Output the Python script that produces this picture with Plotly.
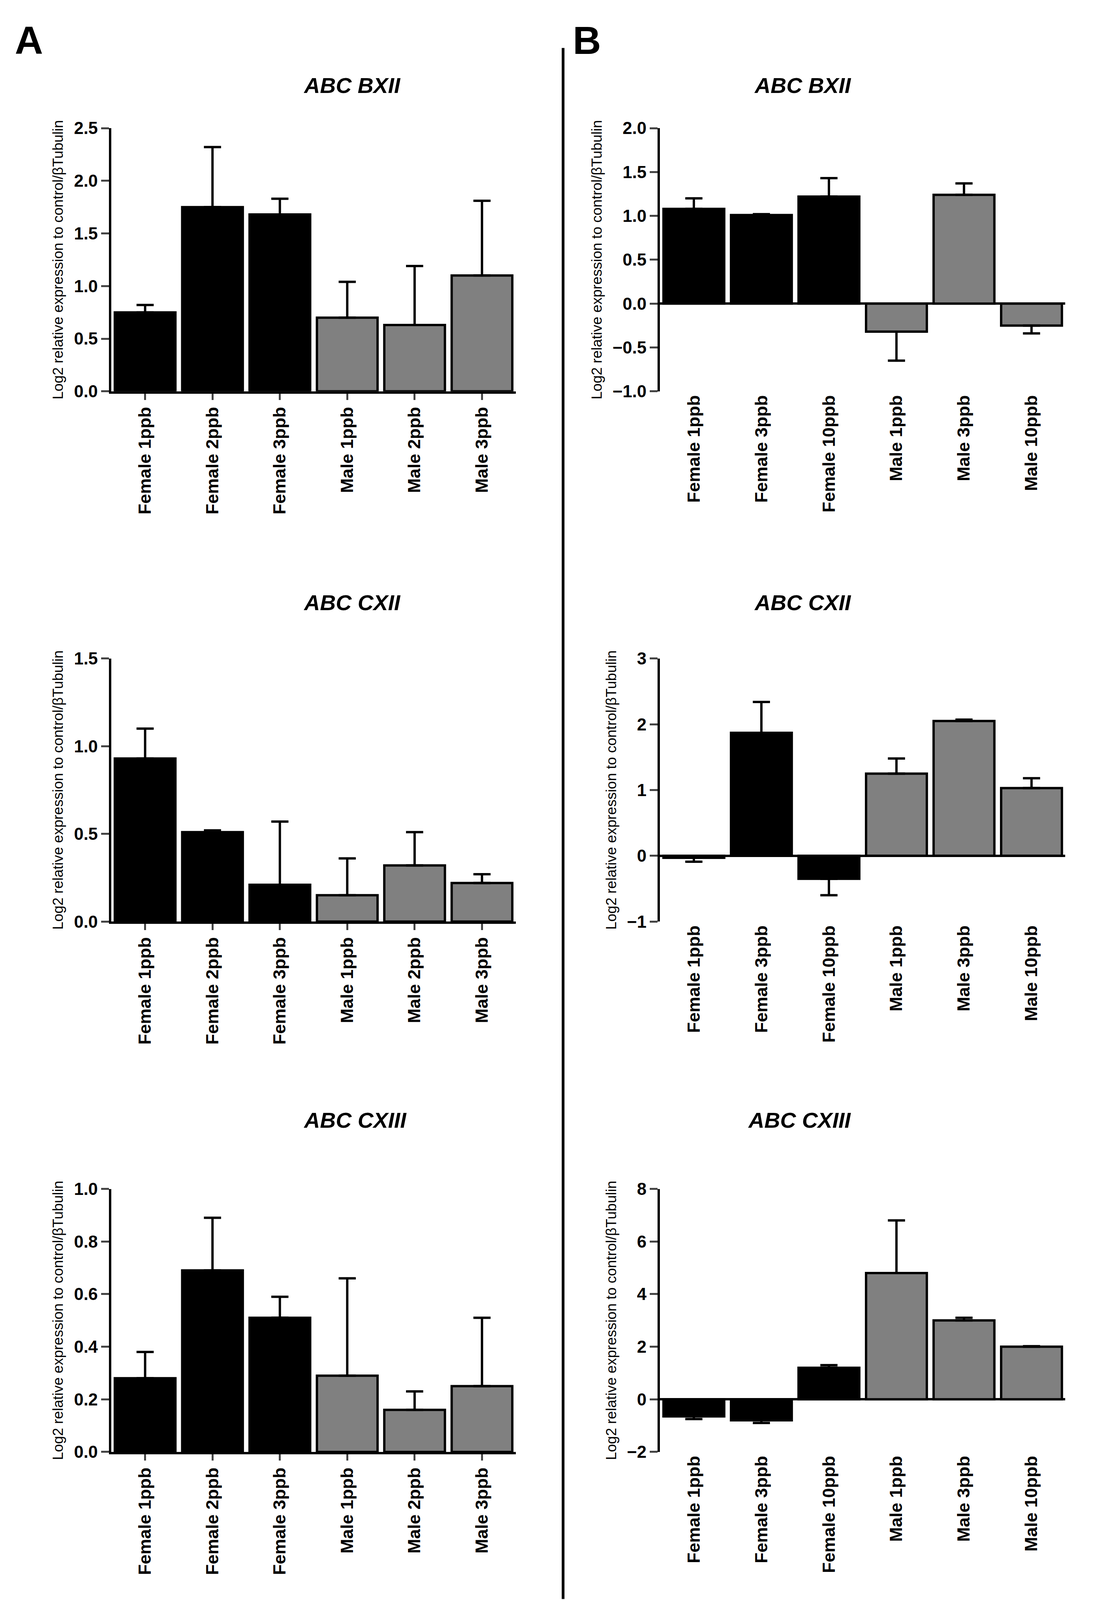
import plotly.graph_objects as go

cats_a = ["Female 1ppb", "Female 2ppb", "Female 3ppb", "Male 1ppb", "Male 2ppb", "Male 3ppb"]
cats_b = ["Female 1ppb", "Female 3ppb", "Female 10ppb", "Male 1ppb", "Male 3ppb", "Male 10ppb"]

a_bxii = [0.75, 1.75, 1.68, 0.70, 0.63, 1.10]
a_bxii_err = [0.07, 0.57, 0.15, 0.34, 0.56, 0.71]
a_cxii = [0.93, 0.51, 0.21, 0.15, 0.32, 0.22]
a_cxii_err = [0.17, 0.01, 0.36, 0.21, 0.19, 0.05]
a_cxiii = [0.28, 0.69, 0.51, 0.29, 0.16, 0.25]
a_cxiii_err = [0.10, 0.20, 0.08, 0.37, 0.07, 0.26]

b_bxii = [1.08, 1.01, 1.22, -0.32, 1.24, -0.25]
b_bxii_err = [0.12, 0.01, 0.21, 0.33, 0.13, 0.09]
b_cxii = [-0.03, 1.87, -0.35, 1.25, 2.05, 1.03]
b_cxii_err = [0.06, 0.47, 0.25, 0.23, 0.02, 0.15]
b_cxiii = [-0.65, -0.80, 1.20, 4.80, 3.00, 2.00]
b_cxiii_err = [0.10, 0.10, 0.10, 2.00, 0.10, 0.02]

colors = ["black", "black", "black", "#808080", "#808080", "#808080"]
FONT = "Arial, Liberation Sans, sans-serif"

panels = [
    ("ABC BXII", cats_a, a_bxii, a_bxii_err, [0, 2.5], 0.5, ".1f", 0, True),
    ("ABC CXII", cats_a, a_cxii, a_cxii_err, [0, 1.5], 0.5, ".1f", 0, True),
    ("ABC CXIII", cats_a, a_cxiii, a_cxiii_err, [0, 1.0], 0.2, ".1f", 0, True),
    ("ABC BXII", cats_b, b_bxii, b_bxii_err, [-1, 2], 0.5, ".1f", 1, False),
    ("ABC CXII", cats_b, b_cxii, b_cxii_err, [-1, 3], 1, "d", 1, False),
    ("ABC CXIII", cats_b, b_cxiii, b_cxiii_err, [-2, 8], 2, "d", 1, False),
]

xdoms = [[0.1005, 0.4756], [0.6096, 0.9856]]
ydoms = [[0.7626, 0.9277], [0.430, 0.595], [0.0973, 0.2623]]

fig = go.Figure()
layout = {}
for i, (title, cats, vals, errs, yr, dt, fmt, col, abottom) in enumerate(panels):
    row = i % 3
    n = i + 1
    xa = "xaxis" if n == 1 else f"xaxis{n}"
    ya = "yaxis" if n == 1 else f"yaxis{n}"
    up = [e if v >= 0 else 0 for v, e in zip(vals, errs)]
    dn = [e if v < 0 else 0 for v, e in zip(vals, errs)]
    fig.add_trace(go.Bar(
        x=cats, y=vals, width=0.9,
        marker=dict(color=colors, line=dict(color="black", width=6)),
        error_y=dict(type="data", symmetric=False, array=up, arrayminus=dn,
                     color="black", thickness=6, width=22),
        xaxis=f"x{n}", yaxis=f"y{n}", showlegend=False,
    ))
    layout[xa] = dict(
        domain=xdoms[col], anchor=f"y{n}", range=[-0.5, 5.5],
        showline=abottom, linecolor="black", linewidth=6,
        ticks="outside" if abottom else "", ticklen=16, tickwidth=5,
        tickangle=-90, showgrid=False,
        tickfont=dict(family=FONT, size=45, color="black", weight="bold"),
    )
    layout[ya] = dict(
        domain=ydoms[row], anchor=f"x{n}", range=yr, dtick=dt, tickformat=fmt,
        showline=True, linecolor="black", linewidth=6, ticks="outside",
        ticklen=20, tickwidth=5, showgrid=False,
        zeroline=not abottom, zerolinecolor="black", zerolinewidth=6,
        tickfont=dict(family=FONT, size=44, color="black", weight="bold"),
        title=dict(text="Log2 relative expression to control/βTubulin",
                   font=dict(family=FONT, size=37, color="black"), standoff=18),
    )
    fig.add_annotation(
        text=f"<b><i>{title}</i></b>", xref="paper", yref="paper",
        x=sum(xdoms[col]) / 2 - 0.01, y=ydoms[row][1] + 0.035,
        showarrow=False, font=dict(family=FONT, size=56, color="black"),
    )

fig.add_annotation(text="<b>A</b>", xref="paper", yref="paper", x=0.01, y=0.997,
                   xanchor="left", yanchor="top", showarrow=False,
                   font=dict(family=FONT, size=100, color="black"))
fig.add_annotation(text="<b>B</b>", xref="paper", yref="paper", x=0.528, y=0.997,
                   xanchor="left", yanchor="top", showarrow=False,
                   font=dict(family=FONT, size=100, color="black"))
fig.add_shape(type="line", xref="paper", yref="paper", x0=0.5196, x1=0.5196,
              y0=0.005, y1=0.978, line=dict(color="black", width=7))

fig.update_layout(
    width=2760, height=4130, margin=dict(l=0, r=0, t=0, b=0),
    plot_bgcolor="white", paper_bgcolor="white", bargap=0.1, **layout,
)
fig.write_html("out.html")
